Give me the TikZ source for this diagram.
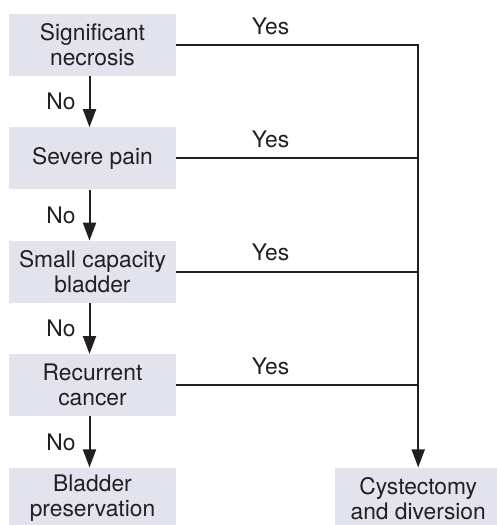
\documentclass[tikz,border=0pt]{standalone}
\usepackage{fontspec}
\setmainfont{TeX Gyre Heros}
\usetikzlibrary{positioning,arrows.meta}
\definecolor{boxfill}{HTML}{E3E3EE}
\definecolor{inkgrey}{HTML}{231F20}
\tikzset{
  stepbox/.style={fill=boxfill, text=inkgrey, minimum width=167pt, minimum height=62pt,
    align=center, inner sep=0pt, font=\fontsize{22.8}{25}\selectfont},
  answer/.style={text=inkgrey, inner sep=0pt, font=\fontsize{22.8}{25}\selectfont},
  link/.style={draw=inkgrey, line width=2pt},
  flow/.style={link, -{Triangle[width=13pt,length=18pt]}}
}
\begin{document}
\begin{tikzpicture}[x=1pt,y=1pt,node distance=51pt]
    \useasboundingbox (0,0) rectangle (496,-525);

    % Vragen in de linker kolom
    \node[stepbox] (necrosis) at (92.5,-45) {Significant\\necrosis};
    \node[stepbox, below=of necrosis] (pain) {Severe pain};
    \node[stepbox, below=of pain] (capacity) {Small capacity\\bladder};
    \node[stepbox, below=of capacity] (recurrence) {Recurrent\\cancer};
    \node[stepbox, below=of recurrence] (preserve) {Bladder\\preservation};

    % Uitkomst rechts
    \coordinate (corner) at ([xshift=242pt]necrosis.east);
    \node[stepbox, anchor=north] (cystectomy) at (corner |- preserve.north) {Cystectomy\\and diversion};

    % No-pijlen naar beneden
    \foreach \upper/\lower in {necrosis/pain, pain/capacity, capacity/recurrence, recurrence/preserve}
        \draw[flow] ([xshift=-3pt]\upper.south) -- node[answer, left=13pt] {No} ([xshift=-3pt]\lower.north);

    % Yes-lijnen naar de verzamellijn
    \draw[flow] (necrosis.east) -- node[answer, pos=0.39, anchor=base, yshift=11pt] {Yes} (corner) -- (cystectomy.north);
    \foreach \cond in {pain, capacity, recurrence}
        \draw[link] (\cond.east) -- node[answer, pos=0.39, anchor=base, yshift=11pt] {Yes} (\cond.east -| corner);
\end{tikzpicture}
\end{document}
